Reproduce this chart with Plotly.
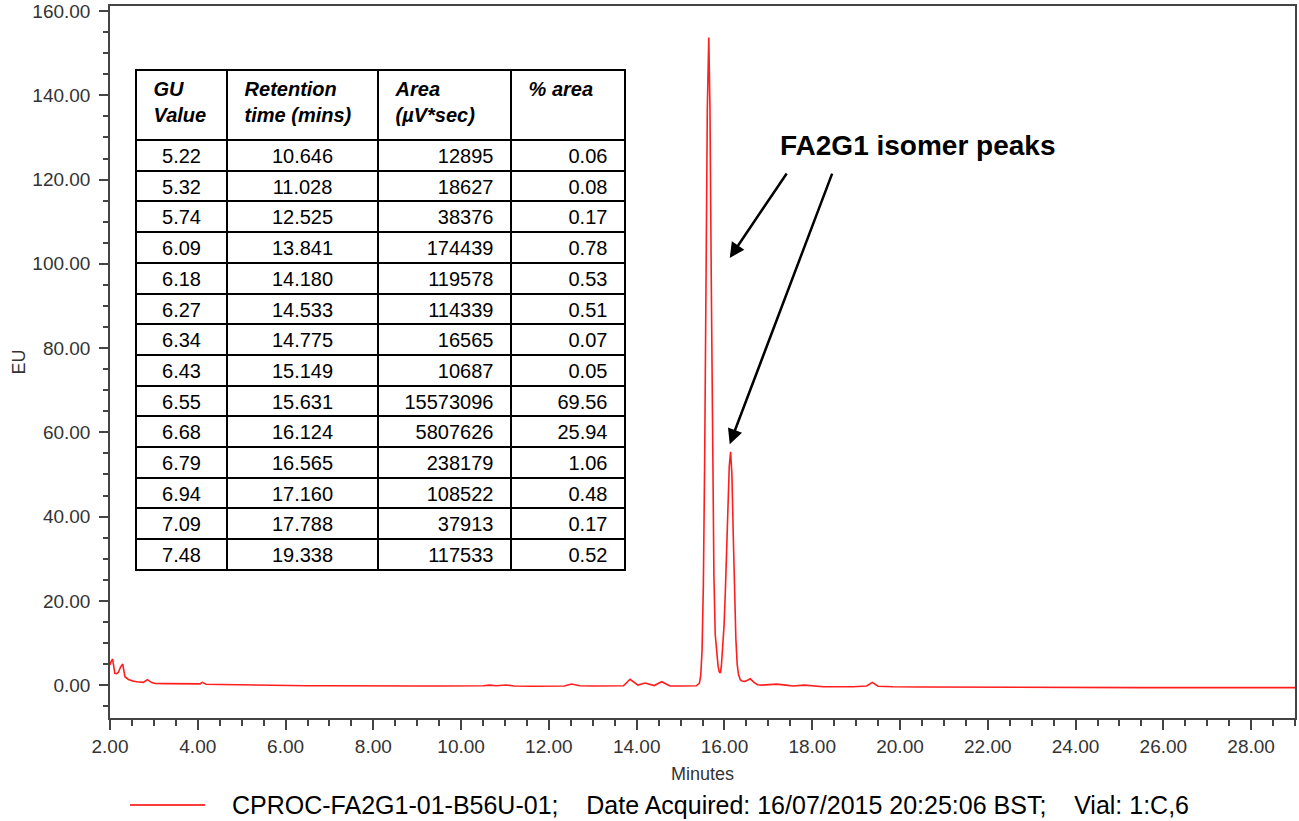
import plotly.graph_objects as go

# ---- chromatogram trace ----
time_min = [2.00, 2.02, 2.06, 2.11, 2.15, 2.19, 2.24, 2.29, 2.34, 2.42,
            2.52, 2.61, 2.76, 2.85, 2.95, 3.03, 3.29, 3.60, 4.05, 4.10,
            4.19, 4.51, 5.00, 5.50, 6.00, 6.50, 7.00, 7.50, 8.00, 8.50,
            9.00, 9.50, 10.00, 10.50, 10.65, 10.80, 11.03, 11.20, 11.60, 12.00,
            12.35, 12.52, 12.70, 13.00, 13.40, 13.70, 13.85, 14.03, 14.19, 14.40,
            14.57, 14.76, 15.00, 15.36, 15.43, 15.46, 15.49, 15.52, 15.55, 15.58,
            15.61, 15.643, 15.67, 15.70, 15.73, 15.76, 15.79, 15.82, 15.855, 15.88,
            15.905, 15.93, 15.96, 15.99, 16.02, 16.05, 16.08, 16.11, 16.14, 16.17,
            16.20, 16.23, 16.26, 16.29, 16.32, 16.36, 16.40, 16.47, 16.53, 16.59,
            16.66, 16.75, 16.85, 17.00, 17.19, 17.40, 17.56, 17.83, 18.25, 18.60,
            18.93, 19.24, 19.37, 19.50, 19.84, 20.50, 21.36, 22.50, 24.00, 25.50,
            27.00, 28.50, 29.00]
eu = [4.8, 5.5, 6.2, 2.8, 2.7, 3.0, 4.3, 5.0, 2.0, 1.35,
      1.0, 0.8, 0.65, 1.3, 0.6, 0.4, 0.35, 0.35, 0.3, 0.65,
      0.2, 0.15, 0.05, -0.05, -0.1, -0.15, -0.15, -0.2, -0.25, -0.25,
      -0.2, -0.2, -0.2, -0.15, 0.0, -0.15, 0.05, -0.2, -0.25, -0.25,
      -0.2, 0.25, -0.15, -0.2, -0.2, -0.15, 1.4, 0.0, 0.5, -0.1,
      0.8, -0.2, -0.2, -0.15, 0.5, 2.3, 8.2, 24, 54, 96,
      137, 153.7, 137, 96, 54, 26, 12, 8, 4.5, 3.2,
      2.85, 4.5, 9, 14, 22, 32, 43, 52, 55.4, 50,
      36, 21, 11, 5, 2.5, 1.3, 1.0, 0.9, 1.2, 1.5,
      0.8, 0.1, 0.0, 0.05, 0.25, 0.0, -0.2, 0.0, -0.4, -0.4,
      -0.4, -0.2, 0.65, -0.25, -0.4, -0.45, -0.5, -0.55, -0.55, -0.6,
      -0.6, -0.6, -0.6]

# ---- peak table ----
gu_value = ["5.22", "5.32", "5.74", "6.09", "6.18", "6.27", "6.34",
            "6.43", "6.55", "6.68", "6.79", "6.94", "7.09", "7.48"]
retention_time = ["10.646", "11.028", "12.525", "13.841", "14.180", "14.533", "14.775",
                  "15.149", "15.631", "16.124", "16.565", "17.160", "17.788", "19.338"]
area = ["12895", "18627", "38376", "174439", "119578", "114339", "16565",
        "10687", "15573096", "5807626", "238179", "108522", "37913", "117533"]
pct_area = ["0.06", "0.08", "0.17", "0.78", "0.53", "0.51", "0.07",
            "0.05", "69.56", "25.94", "1.06", "0.48", "0.17", "0.52"]
table_headers = [["GU", "Value"], ["Retention", "time (mins)"],
                 ["Area", "(µV*sec)"], ["% area"]]

# ---- annotation text ----
peak_label = "FA2G1 isomer peaks"
arrow_targets_x = [16.12, 16.12]
arrow_targets_y = [101.4, 57.2]
legend_parts = ["CPROC-FA2G1-01-B56U-01;", "Date Acquired: 16/07/2015 20:25:06 BST;", "Vial: 1:C,6"]

FONT = "Liberation Sans, Arial, sans-serif"
W, H = 1299, 821
ML, MR, MT, MB = 110, 4, 6, 103
PW, PH = W - ML - MR, H - MT - MB
PAD = "\u00a0\u2009"  # extra inner cell padding

def px_x(p):
    return (p - ML) / PW

def px_y(p):
    return (H - MB - p) / PH

header_cells = ["<b><i>" + "<br>".join(PAD + s for s in h) + "</i></b>" for h in table_headers]
area_cells = [v + PAD for v in area]
pct_cells = [v + PAD for v in pct_area]

fig = go.Figure()

fig.add_trace(go.Scatter(x=time_min, y=eu, mode="lines",
                         line=dict(color="rgb(255,30,30)", width=1.6),
                         showlegend=False, hoverinfo="x+y"))

fig.add_trace(go.Table(
    domain=dict(x=[px_x(136), px_x(625)], y=[px_y(585), px_y(70)]),
    columnwidth=[91, 151, 133, 114],
    header=dict(values=header_cells,
                align=["left", "left", "left", "left"],
                height=70, fill_color="white",
                line=dict(color="black", width=2),
                font=dict(family=FONT, size=20, color="black")),
    cells=dict(values=[gu_value, retention_time, area_cells, pct_cells],
               align=["center", "center", "right", "right"],
               height=30.7, fill_color="white",
               line=dict(color="black", width=2),
               font=dict(family=FONT, size=20, color="black")),
))

axis_common = dict(showline=True, linecolor="#444", linewidth=1.5, mirror=True,
                   showgrid=False, zeroline=False, ticks="outside", automargin=False,
                   tickcolor="#444", tickwidth=1.5, tickformat=".2f",
                   tickfont=dict(family=FONT, size=19, color="#333"))

fig.update_xaxes(range=[2, 29], dtick=2, tick0=0, ticklen=10,
                 minor=dict(dtick=0.5, ticklen=6, tickcolor="#444", ticks="outside"),
                 title=dict(text="Minutes", font=dict(family=FONT, size=18, color="#333"), standoff=12),
                 **axis_common)
fig.update_yaxes(range=[-7.8, 161.2], dtick=20, tick0=0, ticklen=9, ticklabelstandoff=5,
                 minor=dict(dtick=5, ticklen=5, tickcolor="#444", ticks="outside"),
                 title=dict(text="EU", font=dict(family=FONT, size=18, color="#333"), standoff=2),
                 **axis_common)

annotations = [dict(x=20.41, y=128.0, xref="x", yref="y", text="<b>" + peak_label + "</b>",
                    showarrow=False, font=dict(family=FONT, size=28, color="black"))]
for (ax_, ay_), tx, ty in zip([(58, -86), (103, -272)], arrow_targets_x, arrow_targets_y):
    annotations.append(dict(x=tx, y=ty, xref="x", yref="y", text="", showarrow=True,
                            arrowhead=2, arrowsize=1.2, arrowwidth=2.5, arrowcolor="black",
                            ax=ax_, ay=ay_, axref="pixel", ayref="pixel"))
annotations.append(dict(x=px_x(230), y=px_y(805), xref="paper", yref="paper",
                        xanchor="left", yanchor="middle",
                        text=("\u00a0" * 4).join(legend_parts), showarrow=False,
                        font=dict(family=FONT, size=25, color="black")))

fig.update_layout(
    width=W, height=H,
    margin=dict(l=ML, r=MR, t=MT, b=MB, autoexpand=False),
    paper_bgcolor="white", plot_bgcolor="white",
    annotations=annotations,
    shapes=[dict(type="line", xref="paper", yref="paper",
                 x0=px_x(130), x1=px_x(205), y0=px_y(805), y1=px_y(805),
                 line=dict(color="rgb(255,60,60)", width=2))],
    showlegend=False,
)

fig.write_html("out.html", config={"displayModeBar": False},
               post_script="document.body.style.margin='0px';document.body.style.overflow='hidden';")
